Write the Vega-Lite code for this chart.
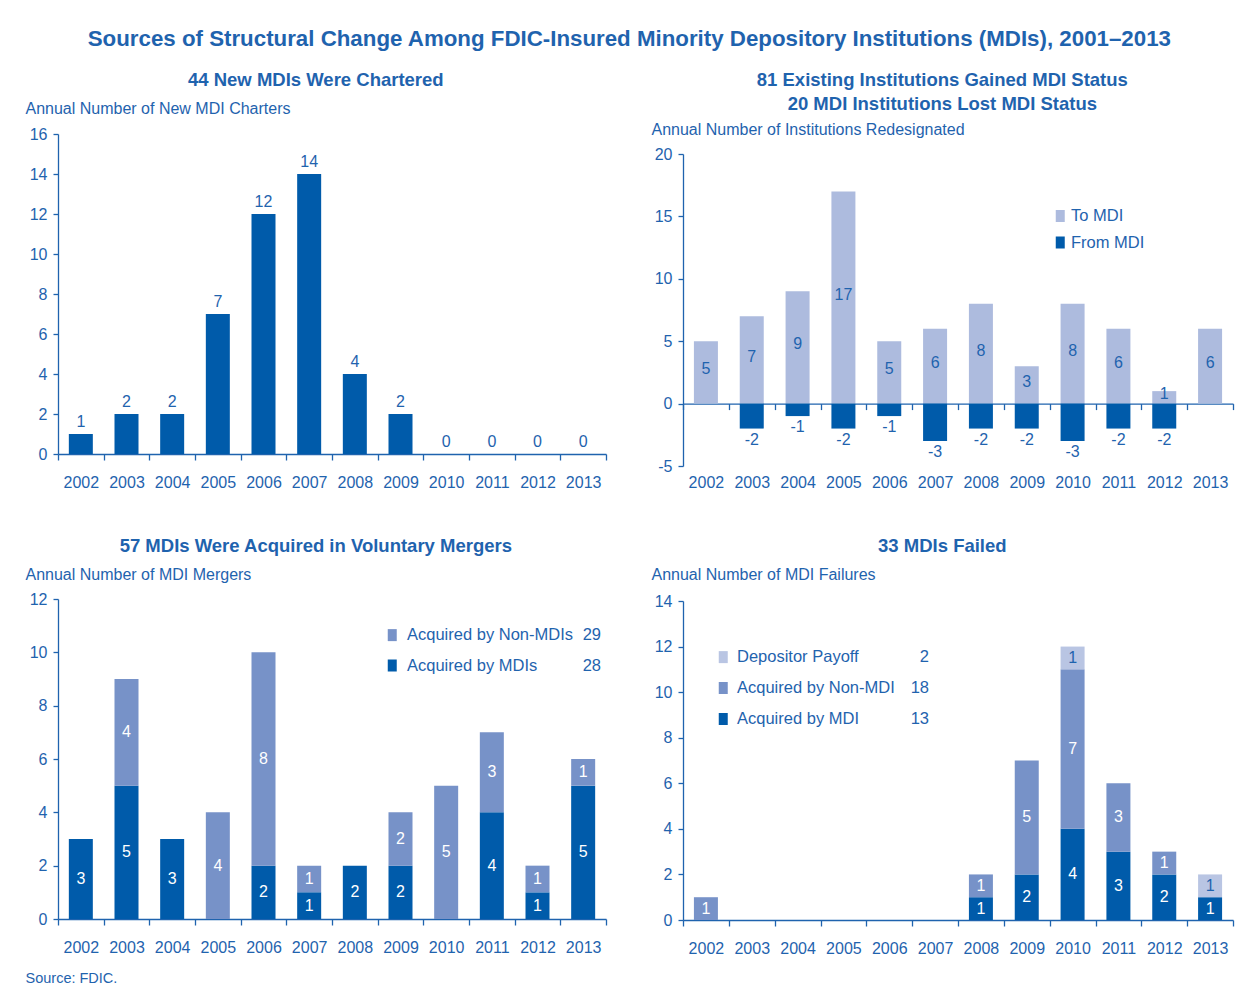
{
  "$schema": "https://vega.github.io/schema/vega-lite/v6.json",
  "background": "white",
  "padding": {"left": 25, "top": 28, "right": 10, "bottom": 10},
  "title": {"text": "Sources of Structural Change Among FDIC-Insured Minority Depository Institutions (MDIs), 2001–2013", "fontSize": 22.3, "offset": 20},
  "spacing": 44,
  "columns": 2,
  "align": "none",
  "resolve": {"scale": {"color": "independent"}, "legend": {"color": "independent"}},
  "concat": [
    {
      "spacing": 46,
      "resolve": {"scale": {"color": "independent"}, "legend": {"color": "independent"}},
      "vconcat": [
        {
          "width": 548, "height": 320,
          "title": {"text": "44 New MDIs Were Chartered", "offset": 11},
          "data": {"values": [
            {"year": "2002", "charters": 1}, {"year": "2003", "charters": 2}, {"year": "2004", "charters": 2},
            {"year": "2005", "charters": 7}, {"year": "2006", "charters": 12}, {"year": "2007", "charters": 14},
            {"year": "2008", "charters": 4}, {"year": "2009", "charters": 2}, {"year": "2010", "charters": 0},
            {"year": "2011", "charters": 0}, {"year": "2012", "charters": 0}, {"year": "2013", "charters": 0}
          ]},
          "encoding": {
            "x": {"field": "year", "type": "ordinal", "axis": {"title": null}},
            "y": {"field": "charters", "type": "quantitative", "scale": {"domain": [0, 16], "nice": false},
                  "axis": {"values": [0, 2, 4, 6, 8, 10, 12, 14, 16], "title": "Annual Number of New MDI Charters", "titleX": -33, "titleY": -26}}
          },
          "layer": [
            {"mark": {"type": "bar", "size": 24, "color": "#005BAA"}},
            {
              "mark": {"type": "text", "baseline": "bottom", "dy": -4},
              "encoding": {"text": {"field": "charters", "type": "nominal"}}
            }
          ]
        },
        {
          "width": 548, "height": 320,
          "title": {"text": "57 MDIs Were Acquired in Voluntary Mergers", "offset": 11},
          "data": {"values": [
            {"year": "2002", "series": "Acquired by MDIs", "value": 3},
            {"year": "2003", "series": "Acquired by MDIs", "value": 5},
            {"year": "2003", "series": "Acquired by Non-MDIs", "value": 4},
            {"year": "2004", "series": "Acquired by MDIs", "value": 3},
            {"year": "2005", "series": "Acquired by Non-MDIs", "value": 4},
            {"year": "2006", "series": "Acquired by MDIs", "value": 2},
            {"year": "2006", "series": "Acquired by Non-MDIs", "value": 8},
            {"year": "2007", "series": "Acquired by MDIs", "value": 1},
            {"year": "2007", "series": "Acquired by Non-MDIs", "value": 1},
            {"year": "2008", "series": "Acquired by MDIs", "value": 2},
            {"year": "2009", "series": "Acquired by MDIs", "value": 2},
            {"year": "2009", "series": "Acquired by Non-MDIs", "value": 2},
            {"year": "2010", "series": "Acquired by Non-MDIs", "value": 5},
            {"year": "2011", "series": "Acquired by MDIs", "value": 4},
            {"year": "2011", "series": "Acquired by Non-MDIs", "value": 3},
            {"year": "2012", "series": "Acquired by MDIs", "value": 1},
            {"year": "2012", "series": "Acquired by Non-MDIs", "value": 1},
            {"year": "2013", "series": "Acquired by MDIs", "value": 5},
            {"year": "2013", "series": "Acquired by Non-MDIs", "value": 1}
          ]},
          "layer": [
            {
              "mark": {"type": "bar", "size": 24},
              "encoding": {
                "x": {"field": "year", "type": "ordinal",
                      "scale": {"domain": ["2002","2003","2004","2005","2006","2007","2008","2009","2010","2011","2012","2013"]},
                      "axis": {"title": "Source: FDIC.", "titleX": -33, "titleY": 59, "titleAlign": "left", "titleBaseline": "middle", "titleFontSize": 14.5, "titleAnchor": "start"}},
                "y": {"field": "value", "type": "quantitative", "stack": "zero", "scale": {"domain": [0, 12], "nice": false},
                      "axis": {"values": [0, 2, 4, 6, 8, 10, 12], "title": "Annual Number of MDI Mergers", "titleX": -33, "titleY": -25}},
                "color": {"field": "series", "type": "nominal",
                          "scale": {"domain": ["Acquired by Non-MDIs", "29", "Acquired by MDIs", "28"], "range": ["#7792C8", "transparent", "#005BAA", "transparent"]},
                          "legend": {"orient": "none", "legendX": 326, "legendY": 27.75, "columns": 2, "direction": "horizontal", "columnPadding": 0, "rowPadding": 13.5, "labelOffset": 6.5,
                                     "encode": {"labels": {"update": {"align": {"signal": "length(datum.value) <= 2 ? 'right' : 'left'"}, "dx": {"signal": "length(datum.value) <= 2 ? 5 : 0"}}}}}},
                "order": {"field": "series", "sort": "ascending"}
              }
            },
            {
              "mark": {"type": "text", "baseline": "middle"},
              "encoding": {
                "x": {"field": "year", "type": "ordinal"},
                "y": {"field": "value", "type": "quantitative", "stack": "zero", "bandPosition": 0.5},
                "detail": {"field": "series"},
                "order": {"field": "series", "sort": "ascending"},
                "text": {"field": "value", "type": "nominal"},
                "color": {"value": "white"}
              }
            }
          ]
        }
      ]
    },
    {
      "spacing": 46,
      "resolve": {"scale": {"color": "independent"}, "legend": {"color": "independent"}},
      "vconcat": [
        {
          "width": 550, "height": 332,
          "title": {"text": ["81 Existing Institutions Gained MDI Status", "20 MDI Institutions Lost MDI Status"], "offset": 8, "lineHeight": 24},
          "data": {"values": [
            {"year": "2002", "series": "To MDI", "value": 5},
            {"year": "2003", "series": "To MDI", "value": 7},
            {"year": "2004", "series": "To MDI", "value": 9},
            {"year": "2005", "series": "To MDI", "value": 17},
            {"year": "2006", "series": "To MDI", "value": 5},
            {"year": "2007", "series": "To MDI", "value": 6},
            {"year": "2008", "series": "To MDI", "value": 8},
            {"year": "2009", "series": "To MDI", "value": 3},
            {"year": "2010", "series": "To MDI", "value": 8},
            {"year": "2011", "series": "To MDI", "value": 6},
            {"year": "2012", "series": "To MDI", "value": 1},
            {"year": "2013", "series": "To MDI", "value": 6},
            {"year": "2003", "series": "From MDI", "value": -2},
            {"year": "2004", "series": "From MDI", "value": -1},
            {"year": "2005", "series": "From MDI", "value": -2},
            {"year": "2006", "series": "From MDI", "value": -1},
            {"year": "2007", "series": "From MDI", "value": -3},
            {"year": "2008", "series": "From MDI", "value": -2},
            {"year": "2009", "series": "From MDI", "value": -2},
            {"year": "2010", "series": "From MDI", "value": -3},
            {"year": "2011", "series": "From MDI", "value": -2},
            {"year": "2012", "series": "From MDI", "value": -2}
          ]},
          "resolve": {"axis": {"x": "independent"}},
          "layer": [
            {
              "mark": {"type": "bar", "size": 24},
              "encoding": {
                "x": {"field": "year", "type": "ordinal",
                      "scale": {"domain": ["2002","2003","2004","2005","2006","2007","2008","2009","2010","2011","2012","2013"]},
                      "axis": {"title": null, "labels": false, "offset": -62.4, "orient": "bottom"}},
                "y": {"field": "value", "type": "quantitative", "stack": null, "scale": {"domain": [-5, 20], "nice": false, "range": [332, 20]},
                      "axis": {"values": [-5, 0, 5, 10, 15, 20], "labelExpr": "'' + datum.value", "title": "Annual Number of Institutions Redesignated", "titleX": -32, "titleY": -5}},
                "color": {"field": "series", "type": "nominal",
                          "scale": {"domain": ["To MDI", "From MDI"], "range": ["#ADBBDE", "#005BAA"]},
                          "legend": {"orient": "none", "legendX": 369, "legendY": 73.75, "rowPadding": 9.5, "labelOffset": 2.5}}
              }
            },
            {
              "transform": [{"filter": "datum.series === 'To MDI'"}],
              "mark": {"type": "text", "baseline": "middle", "dy": -3},
              "encoding": {
                "x": {"field": "year", "type": "ordinal", "axis": {"title": null, "orient": "bottom", "domain": false, "ticks": false, "tickSize": 0, "labelPadding": 8}},
                "y": {"field": "value", "type": "quantitative", "stack": "zero", "bandPosition": 0.5},
                "text": {"field": "value", "type": "nominal"}
              }
            },
            {
              "transform": [{"filter": "datum.series === 'From MDI'"}],
              "mark": {"type": "text", "baseline": "top", "dy": 3},
              "encoding": {
                "x": {"field": "year", "type": "ordinal", "axis": null},
                "y": {"field": "value", "type": "quantitative"},
                "text": {"field": "value", "type": "nominal"}
              }
            }
          ]
        },
        {
          "width": 550, "height": 319,
          "title": {"text": "33 MDIs Failed", "offset": 11},
          "data": {"values": [
            {"year": "2002", "series": "Acquired by Non-MDI", "value": 1},
            {"year": "2008", "series": "Acquired by MDI", "value": 1},
            {"year": "2008", "series": "Acquired by Non-MDI", "value": 1},
            {"year": "2009", "series": "Acquired by MDI", "value": 2},
            {"year": "2009", "series": "Acquired by Non-MDI", "value": 5},
            {"year": "2010", "series": "Acquired by MDI", "value": 4},
            {"year": "2010", "series": "Acquired by Non-MDI", "value": 7},
            {"year": "2010", "series": "Depositor Payoff", "value": 1},
            {"year": "2011", "series": "Acquired by MDI", "value": 3},
            {"year": "2011", "series": "Acquired by Non-MDI", "value": 3},
            {"year": "2012", "series": "Acquired by MDI", "value": 2},
            {"year": "2012", "series": "Acquired by Non-MDI", "value": 1},
            {"year": "2013", "series": "Acquired by MDI", "value": 1},
            {"year": "2013", "series": "Depositor Payoff", "value": 1}
          ]},
          "layer": [
            {
              "mark": {"type": "bar", "size": 24},
              "encoding": {
                "x": {"field": "year", "type": "ordinal",
                      "scale": {"domain": ["2002","2003","2004","2005","2006","2007","2008","2009","2010","2011","2012","2013"]},
                      "axis": {"title": null}},
                "y": {"field": "value", "type": "quantitative", "stack": "zero", "scale": {"domain": [0, 14], "nice": false},
                      "axis": {"values": [0, 2, 4, 6, 8, 10, 12, 14], "title": "Annual Number of MDI Failures", "titleX": -32, "titleY": -27}},
                "color": {"field": "series", "type": "nominal",
                          "scale": {"domain": ["Depositor Payoff", "2", "Acquired by Non-MDI", "18", "Acquired by MDI", "13"], "range": ["#B9C5E3", "transparent", "#7792C8", "transparent", "#005BAA", "transparent"]},
                          "legend": {"orient": "none", "legendX": 32, "legendY": 47.75, "columns": 2, "direction": "horizontal", "columnPadding": 0, "rowPadding": 14, "labelOffset": 5.5,
                                     "encode": {"labels": {"update": {"align": {"signal": "length(datum.value) <= 2 ? 'right' : 'left'"}, "dx": {"signal": "length(datum.value) <= 2 ? 12 : 0"}}}}}},
                "order": {"field": "series", "sort": "ascending"}
              }
            },
            {
              "mark": {"type": "text", "baseline": "middle"},
              "encoding": {
                "x": {"field": "year", "type": "ordinal"},
                "y": {"field": "value", "type": "quantitative", "stack": "zero", "bandPosition": 0.5},
                "detail": {"field": "series"},
                "order": {"field": "series", "sort": "ascending"},
                "text": {"field": "value", "type": "nominal"},
                "color": {"condition": {"test": "datum.series === 'Depositor Payoff'", "value": "#1F63AE"}, "value": "white"}
              }
            }
          ]
        }
      ]
    }
  ],
  "config": {
    "font": "Liberation Sans",
    "view": {"stroke": null},
    "scale": {"bandPaddingInner": 0, "bandPaddingOuter": 0},
    "title": {"font": "Liberation Sans", "fontWeight": "bold", "fontSize": 18.5, "color": "#1F63AE", "anchor": "middle", "frame": "bounds"},
    "axis": {
      "labelFont": "Liberation Sans", "labelFontSize": 16, "labelColor": "#1F63AE", "labelOverlap": false,
      "titleFont": "Liberation Sans", "titleFontSize": 16, "titleFontWeight": "normal", "titleColor": "#1F63AE",
      "titleAngle": 0, "titleAlign": "left", "titleBaseline": "middle",
      "domainColor": "#1F63AE", "tickColor": "#1F63AE", "domainWidth": 1.3, "tickWidth": 1.3, "grid": false
    },
    "axisX": {"tickSize": 6, "labelPadding": 14, "labelAngle": 0, "tickBand": "extent"},
    "axisY": {"tickSize": 5, "labelPadding": 6},
    "legend": {
      "title": null, "labelFont": "Liberation Sans", "labelFontSize": 16.5, "labelColor": "#1F63AE",
      "symbolType": "M-0.75,-1H0.75V1H-0.75Z", "symbolSize": 144, "symbolStrokeWidth": 0, "labelLimit": 300
    },
    "text": {"font": "Liberation Sans", "fontSize": 16, "color": "#1F63AE"}
  }
}
